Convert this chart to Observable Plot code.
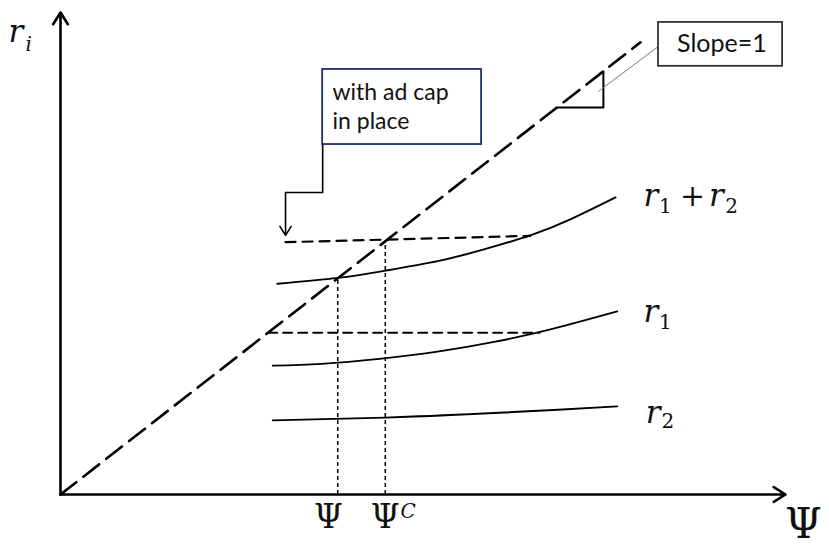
<!DOCTYPE html>
<html><head><meta charset="utf-8">
<script src="https://cdn.jsdelivr.net/npm/d3@7"></script>
<script src="https://cdn.jsdelivr.net/npm/@observablehq/plot@0.6"></script>
<style>body{margin:0;background:#fff}</style>
</head><body><div id="chart"></div>
<script>
// ---- data (x = Ψ, y = r, slope-1 line is y = x) ----
const diagonal = [[0,0],[100,100]];
const sumCurve = [[37.4,46.6],[47.8,47.9],[56.0,49.5],[65.0,51.6],[73.0,54.2],[81.0,57.3],[88.0,60.9],[95.7,65.7]];
const r1Curve  = [[36.6,28.5],[45.0,28.9],[55.0,30.0],[65.0,31.6],[75.0,33.8],[85.0,36.7],[96.0,40.5]];
const r2Curve  = [[36.6,16.4],[56.0,17.0],[72.9,17.9],[85.0,18.7],[96.0,19.5]];
const capLine  = [[38.8,55.8],[81.0,57.2]];
const r1Level  = [[35.8,35.8],[82.6,35.8]];
const guides   = [{x:47.8, top:47.8},{x:56.0, top:56.0}];
const axes     = [{x1:0,y1:0,x2:125,y2:0},{x1:0,y1:0,x2:0,y2:106.6}];
const slopeStep = [[85.6,85.6],[93.6,85.6],[93.6,93.6]];
const leader    = [[92.8,89.2],[103.1,99.1]];
const boxes = [
  {x1:103.1,x2:124.5,y1:94.7,y2:104.4, stroke:"#333"},
  {x1:45.2, x2:72.6, y1:77.4,y2:94.0,  stroke:"#1f2f6e"}
];
const capConnector = [[45.2,77.4],[45.2,66.8],[38.8,66.8]];
const capArrow = [{x1:38.8,y1:66.8,x2:38.8,y2:57.3}];
const boxTexts = [
  {x:46.9,y:87.2,t:"with ad cap", size:23},
  {x:46.9,y:80.75,t:"in place", size:23},
  {x:106.3,y:97.8,t:"Slope=1", size:25}
];
const bigLetters = [
  {x:-8.97,y:100,t:"r"},
  {x:100.5,y:63.9,t:"r"},
  {x:111.8,y:63.9,t:"r"},
  {x:100.5,y:38.05,t:"r"},
  {x:100.9,y:15.9,t:"r"}
];
const subscripts = [
  {x:103.2,y:62.2,t:"1"},
  {x:114.6,y:62.2,t:"2"},
  {x:103.2,y:36.7,t:"1"},
  {x:103.6,y:14.8,t:"2"}
];
const italicSmall = [
  {x:-6.03,y:98.0,t:"i",size:20},
  {x:58.6,y:-5.1,t:"C",size:20}
];
const operators = [{x:106.8,y:63.7,t:"+"}];
const psiTicks = [
  {x:46.2,y:-7.3,t:"Ψ",size:33},
  {x:56.0,y:-7.3,t:"Ψ",size:33},
  {x:128.1,y:-9.7,t:"Ψ",size:42}
];

const serif = "DejaVu Serif";
const sans = "Lato";
const P = (a) => a.map(([x,y]) => ({x,y}));

const chart = Plot.plot({
  width: 829, height: 549,
  marginLeft: 60, marginRight: 44, marginTop: 12, marginBottom: 55,
  x: {domain:[0,125], axis:null},
  y: {domain:[0,106.6], axis:null},
  style: {background:"#fff"},
  marks: [
    Plot.line(P(r1Level), {x:"x",y:"y",stroke:"#000",strokeWidth:2,strokeDasharray:"9,6"}),
    Plot.line(P(capLine), {x:"x",y:"y",stroke:"#000",strokeWidth:2.2,strokeDasharray:"10,7"}),
    Plot.ruleX(guides, {x:"x", y1:0, y2:"top", stroke:"#000", strokeWidth:1.5, strokeDasharray:"4,3"}),
    Plot.line(P(sumCurve), {x:"x",y:"y",curve:"natural",stroke:"#000",strokeWidth:1.9}),
    Plot.line(P(r1Curve), {x:"x",y:"y",curve:"natural",stroke:"#000",strokeWidth:1.9}),
    Plot.line(P(r2Curve), {x:"x",y:"y",curve:"natural",stroke:"#000",strokeWidth:1.9}),
    Plot.line(P(diagonal), {x:"x",y:"y",stroke:"#000",strokeWidth:2.6,strokeDasharray:"20,9"}),
    Plot.line(P(slopeStep), {x:"x",y:"y",stroke:"#000",strokeWidth:2}),
    Plot.line(P(leader), {x:"x",y:"y",stroke:"#777",strokeWidth:1}),
    Plot.rect(boxes, {x1:"x1",x2:"x2",y1:"y1",y2:"y2",fill:"#fff",stroke:"stroke",strokeWidth:1.8}),
    Plot.line(P(capConnector), {x:"x",y:"y",stroke:"#000",strokeWidth:1.6}),
    Plot.arrow(capArrow, {x1:"x1",y1:"y1",x2:"x2",y2:"y2",stroke:"#000",strokeWidth:1.6,headLength:10,headAngle:64}),
    Plot.arrow(axes, {x1:"x1",y1:"y1",x2:"x2",y2:"y2",stroke:"#000",strokeWidth:2.6,headLength:8,headAngle:64}),
    Plot.text(boxTexts, {x:"x",y:"y",text:"t",fontSize:d=>d.size,fontFamily:sans,textAnchor:"start",lineAnchor:"bottom",fill:"#111"}),
    Plot.text(bigLetters, {x:"x",y:"y",text:"t",fontSize:31,fontFamily:serif,fontStyle:"italic",textAnchor:"start",lineAnchor:"bottom",fill:"#111"}),
    Plot.text(subscripts, {x:"x",y:"y",text:"t",fontSize:20,fontFamily:serif,textAnchor:"start",lineAnchor:"bottom",fill:"#111"}),
    Plot.text(italicSmall, {x:"x",y:"y",text:"t",fontSize:d=>d.size,fontFamily:serif,fontStyle:"italic",textAnchor:"start",lineAnchor:"bottom",fill:"#111"}),
    Plot.text(operators, {x:"x",y:"y",text:"t",fontSize:30,fontFamily:serif,textAnchor:"start",lineAnchor:"bottom",fill:"#111"}),
    Plot.text(psiTicks, {x:"x",y:"y",text:"t",fontSize:d=>d.size,fontFamily:serif,textAnchor:"middle",lineAnchor:"bottom",fill:"#111"})
  ]
});
document.getElementById("chart").appendChild(chart);
</script>
</body></html>
